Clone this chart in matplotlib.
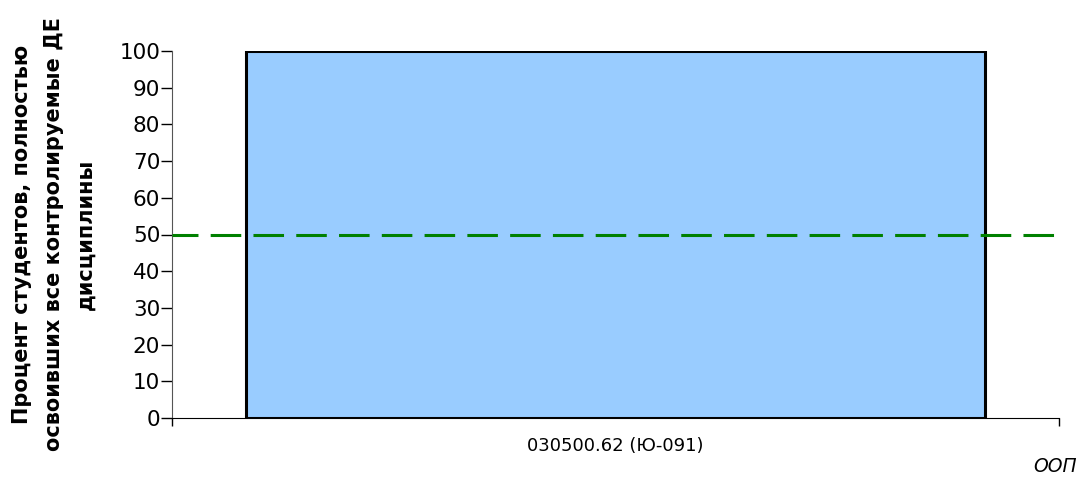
import matplotlib
matplotlib.use("Agg")
import matplotlib.pyplot as plt

plt.rcParams['font.family'] = ['DejaVu Sans']

categories = ["030500.62 (Ю-091)"]
values = [100]
threshold = 50
yticks = list(range(0, 101, 10))

fig = plt.figure(figsize=(10.8, 4.79), dpi=100)
ax = fig.add_axes([172/1080, 1-418/479, (1059-172)/1080, (418-51)/479])

x = list(range(len(categories)))
ax.bar(x, values, width=0.833, color='#99ccff', edgecolor='black', linewidth=2.2, zorder=2)
ax.axhline(threshold, color='#008000', linestyle=(1.5, (10, 4)), linewidth=2.2, zorder=3, clip_on=False)

ax.set_xlim(-0.5, len(categories) - 0.5)
ax.set_ylim(0, 100)
ax.set_yticks(yticks)
ax.tick_params(axis='y', labelsize=15.5, length=8, width=1, direction='out', pad=0.5)
ax.set_xticks([-0.5, len(categories) - 0.5], minor=False)
ax.set_xticklabels([])
ax.tick_params(axis='x', length=6, width=1, direction='out')
ax.set_xticks(x, minor=True)
ax.set_xticklabels(categories, minor=True)
ax.tick_params(axis='x', which='minor', length=0, labelsize=13, pad=14)

for s in ['top', 'right']:
    ax.spines[s].set_visible(False)
ax.spines['left'].set_color('#555555')
ax.spines['bottom'].set_color('black')

fig.text(54/1080, 1-234/479,
         "Процент студентов, полностью\nосвоивших все контролируемые ДЕ\nдисциплины",
         rotation=90, ha='center', va='center', fontsize=15, fontweight='bold',
         linespacing=1.75, multialignment='center')
fig.text(1077/1080, 1-467/479, "ООП", ha='right', va='center', fontsize=13.5, style='italic')

fig.savefig("out.png", dpi=100)
